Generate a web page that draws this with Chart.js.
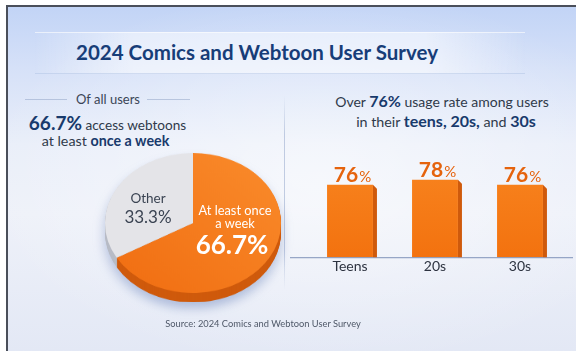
<!DOCTYPE html>
<html>
<head>
<meta charset="utf-8">
<script src="https://cdn.jsdelivr.net/npm/chart.js@4.4.1/dist/chart.umd.min.js"></script>
<style>
  html, body { margin:0; padding:0; background:#fff; }
  body { width:576px; height:351px; position:relative; overflow:hidden; font-family:Lato,"Noto Sans",sans-serif; }
  #frame { position:absolute; left:6px; top:5px; width:570px; height:346px; box-sizing:border-box;
    border-left:2px solid #4a4f5a; border-top:2px solid #4a4f5a;
    background: linear-gradient(180deg, #c2d4f6 0%, #d6e1f8 18%, #e9eef9 40%, #eef1f9 60%, #e3e8f5 100%); overflow:hidden; }
  #glow { position:absolute; left:0; top:0; width:100%; height:100%;
    background: radial-gradient(ellipse 60% 55% at 55% 50%, rgba(255,255,255,0.55), rgba(255,255,255,0)); }
  #band { position:absolute; left:35px; top:32px; width:490px; height:40px;
    background: linear-gradient(90deg, rgba(255,255,255,0) 0%, rgba(255,255,255,0.5) 20%, rgba(255,255,255,0.5) 80%, rgba(255,255,255,0) 100%);
    border-top:1px solid rgba(255,255,255,0.6); border-bottom:1px solid rgba(170,190,225,0.45); }
  .t { position:absolute; transform:translate(-50%,-50%); white-space:nowrap; line-height:1; }
  #title { left:257px; top:52px; font-size:20.5px; font-weight:700; color:#173d78; }
  .navy { color:#183a6c; font-weight:700; }
  .sep { position:absolute; height:1px; background:rgba(140,160,195,0.5); }
  #vsep { position:absolute; left:284px; top:95px; width:1px; height:195px; background:linear-gradient(180deg, rgba(170,185,215,0) 0%, rgba(170,185,215,0.7) 20%, rgba(170,185,215,0.7) 80%, rgba(170,185,215,0)); }
  #pieWrap { position:absolute; left:105px; top:153px; width:176px; height:188px; transform-origin:0 0; transform:scaleY(0.795);
    filter: drop-shadow(0 8px 6px rgba(70,100,170,0.35)); }
  #barWrap { position:absolute; left:290px; top:140px; width:286px; height:136px; }
  canvas { display:block; }
</style>
</head>
<body>
<div id="frame"><div id="glow"></div></div>
<div id="band"></div>
<div class="t" id="title">2024 Comics and Webtoon User Survey</div>

<div class="sep" style="left:25px; top:99px; width:42px;"></div>
<div class="sep" style="left:147px; top:99px; width:43px;"></div>
<div class="t" style="left:108px; top:99px; font-size:13px; color:#3a4556;">Of all users</div>
<div class="t" style="left:107.5px; top:123px; font-size:13.6px; color:#2f3a4a;"><span class="navy" style="font-size:19px;">66.7%</span> access webtoons</div>
<div class="t" style="left:105.5px; top:141px; font-size:14.3px; color:#2f3a4a;">at least <span class="navy">once a week</span></div>

<div id="vsep"></div>

<div class="t" style="left:442px; top:101px; font-size:14px; color:#2f3a4a;">Over <span class="navy" style="font-size:16px;">76%</span> usage rate among users</div>
<div class="t" style="left:446px; top:121px; font-size:14.3px; color:#2f3a4a;">in their <span class="navy" style="font-size:16px;">teens, 20s,</span> and <span class="navy" style="font-size:16px;">30s</span></div>

<div id="pieWrap"><canvas id="pie" width="176" height="188"></canvas></div>
<div id="barWrap"><canvas id="bar" width="286" height="136"></canvas></div>

<div class="t" style="left:148px; top:199px; font-size:13.5px; color:#3a4352;">Other</div>
<div class="t" style="left:148px; top:216px; font-size:17px; color:#3a4352;">33.3%</div>
<div class="t" style="left:235px; top:210px; font-size:12.8px; color:#fff;">At least once</div>
<div class="t" style="left:235px; top:223px; font-size:12.8px; color:#fff;">a week</div>
<div class="t" style="left:232px; top:244px; font-size:26px; font-weight:700; color:#fff;">66.7%</div>

<div class="t" style="left:263px; top:324px; font-size:9.3px; color:#4f5868;">Source: 2024 Comics and Webtoon User Survey</div>

<script>
const pieLabels = ['At least once a week', 'Other'];
const pieValues = [66.7, 33.3];
const ageGroups = ['Teens', '20s', '30s'];
const usageRates = [76, 78, 76];

const ORANGE = '#f57b1c';
const ORANGE_SIDE = '#cf5a0c';
const GREY = '#e4e4e8';
const GREY_SIDE = '#b8bcc6';

const pieDepth = {
  id: 'pieDepth',
  beforeDatasetsDraw(chart) {
    const meta = chart.getDatasetMeta(0);
    const ctx = chart.ctx;
    const sides = [ORANGE_SIDE, GREY_SIDE];
    ctx.save();
    for (let d = 12; d >= 1; d--) {
      meta.data.forEach((arc, i) => {
        const p = arc.getProps(['x','y','startAngle','endAngle','outerRadius'], true);
        ctx.beginPath();
        ctx.moveTo(p.x, p.y + d);
        ctx.arc(p.x, p.y + d, p.outerRadius, p.startAngle, p.endAngle);
        ctx.closePath();
        ctx.fillStyle = sides[i];
        ctx.fill();
      });
    }
    ctx.restore();
  }
};

new Chart(document.getElementById('pie'), {
  type: 'pie',
  data: {
    labels: pieLabels,
    datasets: [{
      data: pieValues,
      backgroundColor: (c) => {
        if (c.dataIndex === 1) return GREY;
        const ch = c.chart; const a = ch.chartArea;
        if (!a) return ORANGE;
        const g = ch.ctx.createLinearGradient(a.right, a.top, a.left, a.bottom);
        g.addColorStop(0, '#fa8c2c');
        g.addColorStop(1, '#f06c10');
        return g;
      },
      borderWidth: 0,
      hoverOffset: 0
    }]
  },
  options: {
    responsive: false,
    animation: false,
    devicePixelRatio: 1,
    layout: { padding: { bottom: 12 } },
    plugins: { legend: { display: false }, tooltip: { enabled: false } }
  },
  plugins: [pieDepth]
});

const barDecor = {
  id: 'barDecor',
  afterDatasetsDraw(chart) {
    const ctx = chart.ctx;
    const meta = chart.getDatasetMeta(0);
    const ys = chart.scales.y;
    const base = ys.getPixelForValue(ys.min);
    ctx.save();
    ctx.strokeStyle = 'rgba(120,140,180,0.75)';
    ctx.lineWidth = 1.2;
    ctx.beginPath();
    ctx.moveTo(0, base + 0.5);
    ctx.lineTo(chart.width - 3, base + 0.5);
    ctx.stroke();
    meta.data.forEach((bar, i) => {
      const p = bar.getProps(['x','y','width','base'], true);
      const r = p.x + p.width / 2;
      const b = Math.min(p.base, base);
      ctx.fillStyle = ORANGE_SIDE;
      ctx.beginPath();
      ctx.moveTo(r, p.y);
      ctx.lineTo(r + 4, p.y + 4);
      ctx.lineTo(r + 4, b);
      ctx.lineTo(r, b);
      ctx.closePath();
      ctx.fill();
      const num = String(usageRates[i]);
      ctx.font = '700 21px Lato, sans-serif';
      const w1 = ctx.measureText(num).width;
      ctx.font = '400 15px Lato, sans-serif';
      const w2 = ctx.measureText('%').width;
      const start = p.x + 2 - (w1 + w2) / 2;
      ctx.fillStyle = '#e5630d';
      ctx.textBaseline = 'alphabetic';
      ctx.textAlign = 'left';
      ctx.font = '700 21px Lato, sans-serif';
      ctx.fillText(num, start, p.y - 3);
      ctx.font = '400 15px Lato, sans-serif';
      ctx.fillText('%', start + w1 + 1, p.y - 3);
    });
    ctx.restore();
  }
};

new Chart(document.getElementById('bar'), {
  type: 'bar',
  data: {
    labels: ageGroups,
    datasets: [{
      data: usageRates,
      backgroundColor: (c) => {
        const ch = c.chart; const a = ch.chartArea;
        if (!a) return ORANGE;
        const g = ch.ctx.createLinearGradient(0, a.top, 0, a.bottom);
        g.addColorStop(0, '#f8841f');
        g.addColorStop(1, '#f3720f');
        return g;
      },
      borderWidth: 0,
      barPercentage: 0.54,
      categoryPercentage: 1
    }]
  },
  options: {
    responsive: false,
    animation: false,
    devicePixelRatio: 1,
    layout: { padding: { left: 17.5, right: 13.5, top: 19, bottom: 0 } },
    scales: {
      x: {
        grid: { display: false, drawTicks: false },
        border: { display: false },
        ticks: { padding: 1, color: '#2d3340', font: { family: 'Lato, sans-serif', size: 14 } }
      },
      y: { display: false, min: 48, max: 86 }
    },
    plugins: { legend: { display: false }, tooltip: { enabled: false } }
  },
  plugins: [barDecor]
});
</script>
</body>
</html>
